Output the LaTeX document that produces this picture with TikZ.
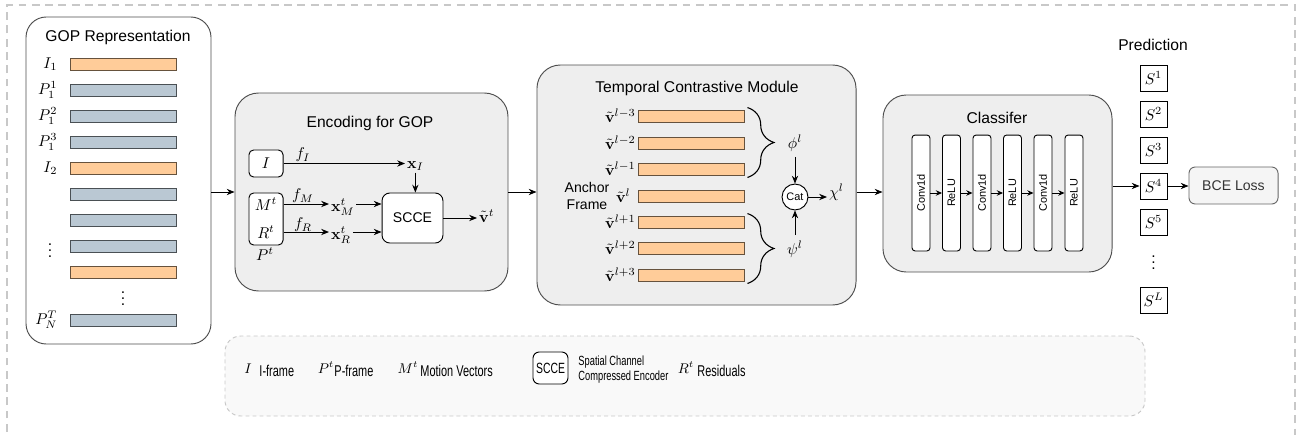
\documentclass[tikz,border=0pt]{standalone}
\usepackage{amsmath, amssymb}
\usepackage[no-math]{fontspec}
\setmainfont{Liberation Sans}
\newfontfamily\narrowfont[FakeStretch=0.7]{Liberation Sans}
\usetikzlibrary{math, arrows.meta, decorations.pathreplacing, calc}

\definecolor{panelgray}{HTML}{EEEEEE}
\definecolor{edgegray}{HTML}{4D4D4D}
\definecolor{iframe}{HTML}{FFCC99}
\definecolor{pframe}{HTML}{BAC8D3}
\definecolor{dashgray}{HTML}{C8C8C8}
\definecolor{legfill}{HTML}{F9F9F9}
\definecolor{bcefill}{HTML}{F5F5F5}
\definecolor{bcegray}{HTML}{666666}
\definecolor{bcetext}{HTML}{333333}

\begin{document}
\begin{tikzpicture}[x=0.64pt, y=-0.64pt, line width=0.6pt,
    >={Stealth[length=5pt, width=4pt]},
    panel/.style={draw=edgegray, fill=panelgray, rounded corners=15pt, inner sep=0pt},
    bar/.style={minimum width=67.8pt, minimum height=7.7pt, inner sep=0pt},
    unit/.style={draw=black, fill=white, rounded corners=3pt, inner sep=0pt},
    layer/.style={draw=black, fill=white, rounded corners=2pt, rotate=90, inner sep=0pt,
      minimum width=74.2pt, minimum height=11.5pt, font=\fontsize{7}{8}\selectfont},
    sbox/.style={draw=black, fill=white, minimum width=17.3pt, minimum height=16.6pt, inner sep=0pt},
    lab/.style={inner sep=1pt},
    legtext/.style={anchor=west, inner sep=0pt, align=left,
      font=\narrowfont\fontsize{10}{11}\selectfont},
    legmath/.style={inner sep=0pt, font=\fontsize{9}{10}\selectfont}]
  \tikzmath{\gx = 123; \tx = 691; \flow = 192;}
  \useasboundingbox (0,0) rectangle (1297,435);
  \draw[dashgray, line width=0.9pt, dash pattern=on 5pt off 3.5pt] (7,445) -- (7,5) -- (1295,5) -- (1295,445);

  % GOP representation
  \node[panel, fill=white, rounded corners=13pt, minimum width=118.4pt, minimum height=209.3pt] (gop) at (118.5,180.5) {};
  \node (goptitle) at (118,37) {GOP Representation};
  \foreach \k/\yy/\col in {1/64/iframe, 2/90/pframe, 3/116/pframe, 4/142/pframe, 5/168/iframe,
      6/194/pframe, 7/220/pframe, 8/246/pframe, 9/272/iframe, 10/320/pframe}
    \node[bar, fill=\col, draw=\col!40!black] (g\k) at (\gx,\yy) {};
  \node[anchor=east] (gl1) at (63,64) {$I_1$};
  \node[anchor=east] (gl2) at (63,90) {$P_1^1$};
  \node[anchor=east] (gl3) at (63,116) {$P_1^2$};
  \node[anchor=east] (gl4) at (63,142) {$P_1^3$};
  \node[anchor=east] (gl5) at (63,168) {$I_2$};
  \node (gldots) at (50,246) {$\vdots$};
  \node (gdots) at (\gx,294) {$\vdots$};
  \node[anchor=east] (gl10) at (63,320) {$P_N^T$};

  % encoding for GOP
  \node[panel, minimum width=174.7pt, minimum height=126.7pt] (enc) at (371.5,192) {};
  \node (enctitle) at (370,123) {Encoding for GOP};
  \node[unit, minimum width=21.8pt, minimum height=17.3pt] (ibox) at (266,163.5) {$I$};
  \node[unit, minimum width=21.8pt, minimum height=33.3pt] (pbox) at (266,219) {};
  \node (mt) at (266,204) {$M^t$};
  \node (rt) at (266,232) {$R^t$};
  \node (pt) at (265,254) {$P^t$};
  \node[unit, rounded corners=5pt, minimum width=39pt, minimum height=32pt,
    font=\fontsize{9}{10}\selectfont] (scce) at (412.5,218) {SCCE};
  \node[lab, anchor=west] (xi) at (405,166) {$\mathbf{x}_I$};
  \node[lab, anchor=west] (xm) at (329,207) {$\mathbf{x}^t_M$};
  \node[lab, anchor=west] (xr) at (329,235) {$\mathbf{x}^t_R$};
  \node[lab, anchor=west] (vt) at (477,216) {$\tilde{\mathbf{v}}^t$};
  \node (fi) at (303,155) {$f_I$};
  \node (fm) at (303,196) {$f_M$};
  \node (fr) at (303,225) {$f_R$};
  \draw[->] (ibox.east) -- (xi.west |- ibox.east);
  \draw[->] (xi.south) -- (xi.south |- scce.north);
  \draw[->] (pbox.east |- mt) -- (xm.west |- mt);
  \draw[->] (xm.east |- mt) -- (scce.west |- mt);
  \draw[->] (pbox.east |- rt) -- (xr.west |- rt);
  \draw[->] (xr.east |- rt) -- (scce.west |- rt);
  \draw[->] (scce.east) -- (vt.west |- scce.east);

  % temporal contrastive module
  \node[panel, minimum width=204.2pt, minimum height=153.6pt] (tcm) at (696.5,185) {};
  \node (tcmtitle) at (697,88) {Temporal Contrastive Module};
  \foreach \k/\yy in {1/116, 2/143, 3/169, 4/196, 5/222, 6/248, 7/275}
    \node[bar, fill=iframe, draw=iframe!40!black] (v\k) at (\tx,\yy) {};
  \node[lab, anchor=east] (vl1) at (v1.west) {$\tilde{\mathbf{v}}^{l-3}$};
  \node[lab, anchor=east] (vl2) at (v2.west) {$\tilde{\mathbf{v}}^{l-2}$};
  \node[lab, anchor=east] (vl3) at (v3.west) {$\tilde{\mathbf{v}}^{l-1}$};
  \node[lab, anchor=east] (vl4) at ($(v4.west)+(-5,0)$) {$\tilde{\mathbf{v}}^{l}$};
  \node[lab, anchor=east] (vl5) at (v5.west) {$\tilde{\mathbf{v}}^{l+1}$};
  \node[lab, anchor=east] (vl6) at (v6.west) {$\tilde{\mathbf{v}}^{l+2}$};
  \node[lab, anchor=east] (vl7) at (v7.west) {$\tilde{\mathbf{v}}^{l+3}$};
  \node[align=center, font=\fontsize{9}{11}\selectfont] (anchorframe) at (587,196) {Anchor\\Frame};
  \draw[decorate, decoration={brace, amplitude=17pt}, line width=0.7pt]
    ($(v1.north east)+(3,-2)$) -- ($(v3.south east)+(3,2)$);
  \draw[decorate, decoration={brace, amplitude=17pt}, line width=0.7pt]
    ($(v5.north east)+(3,-2)$) -- ($(v7.south east)+(3,2)$);
  \node (phi) at (795,143) {$\phi^l$};
  \node (psi) at (795,249) {$\psi^l$};
  \node[circle, draw=black, fill=white, minimum size=16.6pt, inner sep=0pt,
    font=\fontsize{7}{8}\selectfont] (cat) at (795,197) {Cat};
  \node[lab, anchor=west] (chi) at (827,192) {$\chi^l$};
  \draw[->] (phi) -- (cat);
  \draw[->] (psi) -- (cat);
  \draw[->] (cat.east) -- (chi.west |- cat.east);

  % classifier
  \node[panel, minimum width=146.6pt, minimum height=113.3pt] (cls) at (997.5,183.5) {};
  \node (clstitle) at (997,118) {Classifer};
  \foreach \k/\xx/\name in {1/921/Conv1d, 2/951.5/ReLU, 3/982/Conv1d, 4/1012.5/ReLU, 5/1043/Conv1d, 6/1074/ReLU}
    \node[layer] (c\k) at (\xx,193) {\name};
  \foreach \a/\b in {1/2, 2/3, 3/4, 4/5, 5/6}
    \draw[-{Stealth[length=4pt, width=3.5pt]}] (c\a) -- (c\b);

  % panel to panel
  \draw[->] (gop.east |- 0,\flow) -- (enc.west |- 0,\flow);
  \draw[->] (enc.east |- 0,\flow) -- (tcm.west |- 0,\flow);
  \draw[->] (tcm.east |- 0,\flow) -- (cls.west |- 0,\flow);

  % prediction and loss
  \node (predtitle) at (1153,45) {Prediction};
  \foreach \k/\yy/\lab in {1/78/1, 2/114/2, 3/150/3, 4/186/4, 5/222/5, 6/300/L}
    \node[sbox] (s\k) at (1153.5,\yy) {$S^{\lab}$};
  \node (sdots) at (1153.5,258) {$\vdots$};
  \node[draw=bcegray, fill=bcefill, rounded corners=4pt, minimum width=57pt, minimum height=23.7pt,
    text=bcetext, font=\fontsize{9}{10}\selectfont] (bce) at (1233.5,185.5) {BCE Loss};
  \draw[->] (cls.east |- s4) -- (s4.west);
  \draw[->] (s4.east) -- (bce.west |- s4.east);

  % legend
  \node[draw=dashgray, fill=legfill, dash pattern=on 2.5pt off 2pt, rounded corners=10pt,
    minimum width=588.8pt, minimum height=51.2pt] (legend) at (685,376) {};
  \node[legmath] (lgi) at (248,369) {$I$};
  \node[legtext] (lgitext) at (259,371) {I-frame};
  \node[legmath] (lgp) at (326,368) {$P^t$};
  \node[legtext] (lgptext) at (334,371) {P-frame};
  \node[legmath] (lgm) at (408,368) {$M^t$};
  \node[legtext] (lgmtext) at (420,371) {Motion Vectors};
  \node[unit, rounded corners=4pt, minimum width=22.4pt, minimum height=20.5pt,
    font=\narrowfont\fontsize{9.5}{10}\selectfont] (lgscce) at (550.5,368) {SCCE};
  \node[legtext, font=\narrowfont\fontsize{8.5}{9.6}\selectfont] (lgsccetext) at (578,370) {Spatial Channel\\Compressed Encoder};
  \node[legmath] (lgr) at (686,368) {$R^t$};
  \node[legtext] (lgrtext) at (697,371) {Residuals};
\end{tikzpicture}
\end{document}
